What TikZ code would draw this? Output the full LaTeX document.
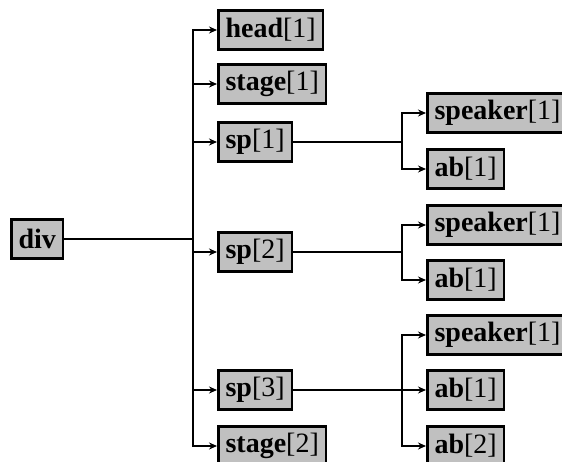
\documentclass[tikz,border=0pt]{standalone}
\usepackage{fontspec}
\setmainfont{Liberation Serif}
\usetikzlibrary{arrows.meta}
\definecolor{boxfill}{RGB}{192,192,192}
\tikzset{
  elem/.style={draw=black, line width=2.5pt, fill=boxfill, anchor=west,
    minimum height=39pt, inner xsep=7.3pt, inner ysep=0pt,
    font=\fontsize{28}{32}\selectfont},
  link/.style={line width=2.3pt},
  arr/.style={line width=2.3pt, -{Stealth[length=8pt,width=7pt]}},
}
\newcommand{\el}[2]{\textbf{#1}[#2]}
\begin{document}
\begin{tikzpicture}[x=1pt, y=-1pt]
  \useasboundingbox (0,0) rectangle (562,462);
  \clip (0,0) rectangle (562,462);

  % root
  \node[elem] (div) at (10,239) {\textbf{div}};

  % children of div
  \node[elem] (head1)  at (217,30)  {\el{head}{1}};
  \node[elem] (stage1) at (217,84)  {\el{stage}{1}};
  \node[elem] (sp1)    at (217,142) {\el{sp}{1}};
  \node[elem] (sp2)    at (217,252) {\el{sp}{2}};
  \node[elem] (sp3)    at (217,390) {\el{sp}{3}};
  \node[elem] (stage2) at (217,446) {\el{stage}{2}};

  % children of the sp elements
  \node[elem] (spkA) at (426,113) {\el{speaker}{1}};
  \node[elem] (abA)  at (426,169) {\el{ab}{1}};
  \node[elem] (spkB) at (426,225) {\el{speaker}{1}};
  \node[elem] (abB)  at (426,280) {\el{ab}{1}};
  \node[elem] (spkC) at (426,335) {\el{speaker}{1}};
  \node[elem] (abC1) at (426,390) {\el{ab}{1}};
  \node[elem] (abC2) at (426,446) {\el{ab}{2}};

  % trunk and branch columns
  \coordinate (tx) at (193,0);
  \coordinate (bx) at (402,0);
  \coordinate (t)  at (div -| tx);
  \coordinate (b1) at (sp1 -| bx);
  \coordinate (b2) at (sp2 -| bx);
  \coordinate (b3) at (sp3 -| bx);

  % div to its children
  \draw[link] (div) -- (t);
  \foreach \n in {head1,stage1,sp1,sp2,sp3,stage2}
    \draw[arr] (t) |- (\n);

  % sp elements to their children
  \draw[link] (sp1) -- (b1);
  \draw[arr] (b1) |- (spkA);
  \draw[arr] (b1) |- (abA);

  \draw[link] (sp2) -- (b2);
  \draw[arr] (b2) |- (spkB);
  \draw[arr] (b2) |- (abB);

  \draw[link] (sp3) -- (b3);
  \draw[arr] (b3) |- (spkC);
  \draw[arr] (b3) -- (abC1);
  \draw[arr] (b3) |- (abC2);
\end{tikzpicture}
\end{document}
